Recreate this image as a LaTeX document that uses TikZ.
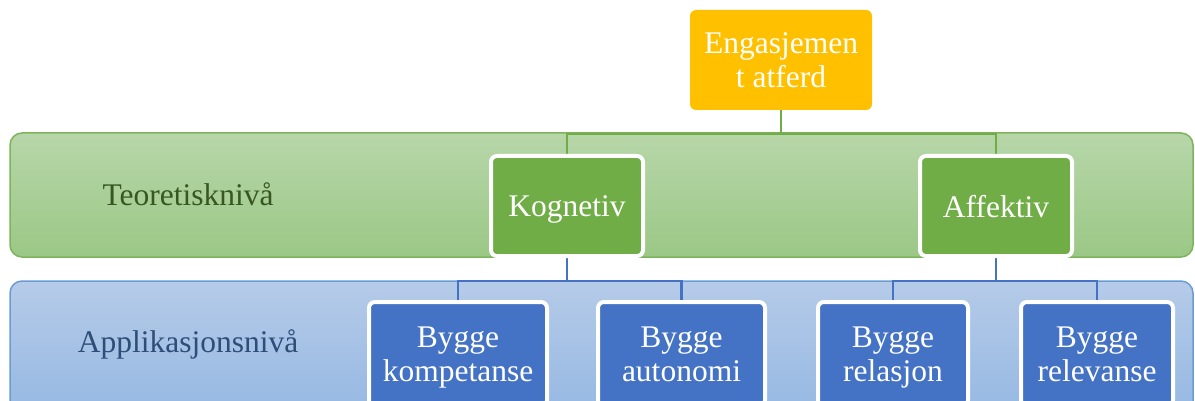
\documentclass[tikz,border=0pt]{standalone}
\usepackage{fontspec}
\setmainfont{Liberation Serif}
\usetikzlibrary{backgrounds}
\definecolor{kgreen}{HTML}{70AD47}
\definecolor{kblue}{HTML}{4472C4}
\definecolor{kgold}{HTML}{FFC000}
\definecolor{gtop}{HTML}{B7D6A9}
\definecolor{gbot}{HTML}{9BC886}
\definecolor{btop}{HTML}{B5CBE8}
\definecolor{bbot}{HTML}{92B6E2}
\definecolor{gedge}{HTML}{7DB35A}
\definecolor{bedge}{HTML}{6A9BD6}
\definecolor{gtext}{HTML}{375623}
\definecolor{btext}{HTML}{2E4D78}
\tikzset{
  boxbase/.style={rounded corners=6pt, text=white, align=center, inner sep=0pt,
    text depth=0pt, font=\fontsize{31.5}{33.4}\selectfont},
  goldbox/.style={boxbase, fill=kgold, minimum width=182pt, minimum height=100pt},
  greenbox/.style={boxbase, fill=kgreen, draw=white, line width=4pt, minimum width=152pt, minimum height=100pt},
  bluebox/.style={boxbase, fill=kblue, draw=white, line width=4pt, minimum height=104pt},
  gline/.style={draw=kgreen, line width=2.8pt},
  bline/.style={draw=kblue, line width=2.8pt},
  band/.style={rounded corners=12pt, line width=1.5pt},
  bandlabel/.style={anchor=base, inner sep=0pt, font=\fontsize{31.5}{33}\selectfont}
}
\begin{document}
\begin{tikzpicture}[x=1pt,y=-1pt]
\useasboundingbox (0,0) rectangle (1195,401);
\clip (0,0) rectangle (1195,401);
% nodes
\node[goldbox] (eng) at (781,60) {Engasjemen\\t atferd};
\node[greenbox] (kog) at (567,206) {Kognetiv};
\node[greenbox] (aff) at (996,206) {Affektiv};
\node[bluebox, minimum width=178pt] (komp) at (458,354) {Bygge\\kompetanse};
\node[bluebox, minimum width=167pt] (auto) at (681.5,354) {Bygge\\autonomi};
\node[bluebox, minimum width=150pt] (rel) at (893,354) {Bygge\\relasjon};
\node[bluebox, minimum width=152pt] (relv) at (1097,354) {Bygge\\relevanse};
% bus points
\coordinate (gbus) at (781,134);
\coordinate (kbus) at (567,281);
\coordinate (abus) at (996,281);
\begin{scope}[on background layer]
  % bands
  \path[band, top color=gtop, bottom color=gbot, draw=gedge] (10,133) rectangle (1193,257);
  \path[band, top color=btop, bottom color=bbot, draw=bedge] (10,281) rectangle (1193,430);
  % connectors
  \draw[gline] (eng.south) -- (gbus);
  \draw[gline] (kog.north) |- (gbus) -| (aff.north);
  \draw[bline] (kog.south) -- (kbus);
  \draw[bline] (komp.north) |- (kbus) -| (auto.north);
  \draw[bline] (aff.south) -- (abus);
  \draw[bline] (rel.north) |- (abus) -| (relv.north);
\end{scope}
\node[bandlabel, text=gtext] (teo) at (188,205) {Teoretisknivå};
\node[bandlabel, text=btext] (app) at (188,352) {Applikasjonsnivå};
\end{tikzpicture}
\end{document}
